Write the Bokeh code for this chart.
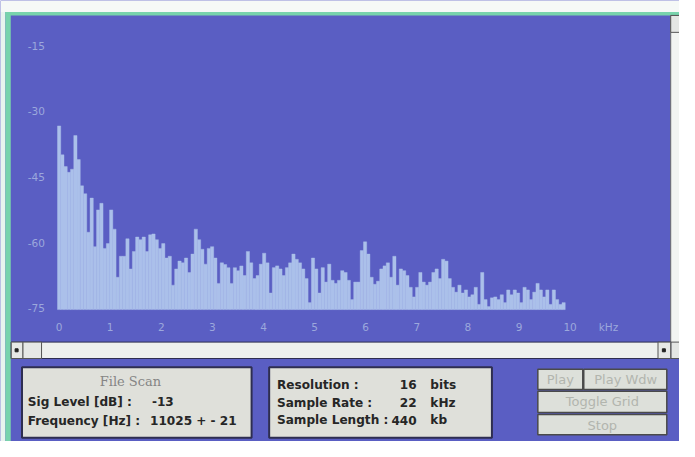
from bokeh.plotting import figure
from bokeh.models import Range1d
from bokeh.core.properties import value
from bokeh.embed import file_html
from bokeh.resources import INLINE

# ---------------- data ----------------
bin_width_khz = 0.0637
levels_db = [
    -33.3, -39.9, -42.6, -43.9, -43.2, -35.5, -41.0, -47.0, -48.8, -57.6,
    -49.8, -60.9, -52.5, -51.0, -61.3, -60.2, -52.5, -56.9, -67.9, -63.1,
    -63.1, -59.1, -66.0, -62.0, -58.7, -59.3, -58.7, -62.0, -58.2, -58.0,
    -59.3, -61.3, -60.2, -63.5, -63.1, -69.7, -66.0, -64.2, -64.6, -63.5,
    -66.8, -62.6, -56.9, -59.3, -61.5, -64.9, -61.3, -60.9, -63.5, -69.3,
    -64.6, -65.0, -65.7, -69.3, -65.7, -66.4, -65.3, -67.5, -62.0, -64.6,
    -68.2, -67.5, -64.9, -62.4, -64.6, -71.5, -65.7, -65.3, -66.0, -67.5,
    -65.7, -64.6, -62.6, -63.8, -64.6, -66.0, -68.2, -73.7, -63.5, -66.0,
    -71.5, -65.7, -69.0, -64.9, -68.6, -69.3, -68.6, -66.4, -66.8, -68.6,
    -73.0, -69.0, -69.0, -61.8, -59.8, -62.6, -67.9, -69.5, -68.8, -66.0,
    -65.3, -64.6, -67.9, -63.1, -69.7, -66.0, -66.4, -67.5, -70.2, -72.4,
    -70.2, -66.8, -69.0, -69.7, -69.0, -66.8, -66.0, -68.2, -63.8, -64.2,
    -68.2, -70.2, -71.3, -69.7, -71.5, -70.8, -72.4, -71.9, -70.2, -74.1,
    -66.8, -73.0, -74.6, -72.6, -72.4, -73.0, -71.9, -73.7, -70.8, -71.9,
    -70.8, -71.5, -73.7, -70.2, -70.8, -73.0, -71.3, -69.3, -70.8, -72.4,
    -70.8, -74.1, -70.8, -73.0, -74.1, -73.7,
]
freq_khz = [i * bin_width_khz for i in range(len(levels_db))]
baseline_db = -75.3
db_ticks = [-75, -60, -45, -30, -15]
khz_ticks = [0, 1, 2, 3, 4, 5, 6, 7, 8, 9, 10]
khz_unit_tick = 10.75
khz_unit_label = "kHz"

info_left_title = "File Scan"
info_left_labels = ["Sig Level [dB] :", "Frequency [Hz] :"]
info_left_values = ["-13", "11025 + - 21"]
info_mid_labels = ["Resolution :", "Sample Rate :", "Sample Length :"]
info_mid_values = ["16", "22", "440"]
info_mid_units = ["bits", "kHz", "kb"]
button_labels = ["Play", "Play Wdw", "Toggle Grid", "Stop"]

# ---------------- styles ----------------
BLUE = "#5a5ec3"
BAR = "#abc0ea"
TICK = "#9ca8dc"
PANEL = "#dfe0da"
SCROLL = "#eef0ee"
GREEN = "#78d3ac"
DARK = "#2e2e50"
TXT = "#262626"
BTN_TXT = "#b2b5ae"
FONT_AX = "DejaVu Sans"
FONT_UI = "DejaVu Sans"
FONT_SERIF = "DejaVu Serif"
UI_SIZE = "12.1px"

W, H = 679, 441

# One canvas whose primary ranges are the original 695x457 screen grid;
# the spectrum uses its own kHz / dB scales mapped onto the same frame.
p = figure(width=W, height=H, output_backend="svg", toolbar_location=None,
           x_range=Range1d(0, 695), y_range=Range1d(457, 0),
           min_border=0, x_axis_location=None, y_axis_location=None)
p.extra_x_ranges = {"khz": Range1d(-1.14723, 12.14149)}
p.extra_y_ranges = {"db": Range1d(-105.448, -4.632)}
p.background_fill_color = BLUE
p.border_fill_color = BLUE
p.outline_line_color = None
p.grid.visible = False

# window frame
p.quad(left=[0], right=[695], top=[0], bottom=[12], fill_color="#f6f9f7", line_color=None)
p.quad(left=[0], right=[5], top=[12], bottom=[457], fill_color="#e8f4ee", line_color=None)
p.quad(left=[5], right=[695], top=[12], bottom=[15.5], fill_color=GREEN, line_color=None)
p.quad(left=[5], right=[10.5], top=[12], bottom=[457], fill_color=GREEN, line_color=None)
# vertical scrollbar on the right
p.quad(left=[686], right=[695], top=[15.5], bottom=[371], fill_color="#f2f4f2",
       line_color="#6a6a6a", line_width=1)
p.quad(left=[686, 686], right=[695, 695], top=[15.5, 354], bottom=[33, 371],
       fill_color="#e4e6e4", line_color="#555555", line_width=1)

# spectrum bars
p.vbar(x=freq_khz, top=levels_db, bottom=baseline_db, width=bin_width_khz,
       fill_color=BAR, line_color=BAR, line_width=0.4,
       x_range_name="khz", y_range_name="db")

# tick labels placed on the kHz / dB scales
p.text(x=[-0.277] * len(db_ticks), y=db_ticks, text=[str(t) for t in db_ticks],
       x_range_name="khz", y_range_name="db", text_font=value(FONT_AX),
       text_font_size="10.5px", text_color=TICK, text_align="right",
       text_baseline="middle")
p.text(x=khz_ticks + [khz_unit_tick], y=[-79.2] * (len(khz_ticks) + 1),
       text=[str(t) for t in khz_ticks] + [khz_unit_label],
       x_range_name="khz", y_range_name="db", text_font=value(FONT_AX),
       text_font_size="10.5px", text_color=TICK, text_align="center",
       text_baseline="middle")

# horizontal scrollbar
p.quad(left=[11], right=[686], top=[354], bottom=[371], fill_color=SCROLL,
       line_color=DARK, line_width=1)
p.quad(left=[11, 23, 673], right=[23, 42, 686], top=[354, 354, 354], bottom=[371, 371, 371],
       fill_color="#e6e8e6", line_color="#555555", line_width=1)
p.scatter(x=[16.5, 679], y=[362.5, 362.5], size=3, marker="square", color="#222222")

# info panels
p.quad(left=[22, 275], right=[257, 503], top=[380, 380], bottom=[453, 453],
       fill_color=PANEL, line_color=DARK, line_width=2)
p.text(x=[133], y=[395], text=[info_left_title], text_font=value(FONT_SERIF),
       text_font_size="13px", text_color="#858585", text_align="center",
       text_baseline="middle")
p.text(x=[28, 28], y=[416, 436], text=info_left_labels, text_font=value(FONT_UI),
       text_font_style="bold", text_font_size=UI_SIZE, text_color=TXT,
       text_align="left", text_baseline="middle")
p.text(x=[155, 153], y=[416, 436], text=info_left_values, text_font=value(FONT_UI),
       text_font_style="bold", text_font_size=UI_SIZE, text_color=TXT,
       text_align="left", text_baseline="middle")

rows_y = [398, 417, 435]
p.text(x=[283] * 3, y=rows_y, text=info_mid_labels, text_font=value(FONT_UI),
       text_font_style="bold", text_font_size=UI_SIZE, text_color=TXT,
       text_align="left", text_baseline="middle")
p.text(x=[426] * 3, y=rows_y, text=info_mid_values, text_font=value(FONT_UI),
       text_font_style="bold", text_font_size=UI_SIZE, text_color=TXT,
       text_align="right", text_baseline="middle")
p.text(x=[440] * 3, y=rows_y, text=info_mid_units, text_font=value(FONT_UI),
       text_font_style="bold", text_font_size=UI_SIZE, text_color=TXT,
       text_align="left", text_baseline="middle")

# buttons
p.quad(left=[550, 597, 550, 550], right=[596, 682, 682, 682],
       top=[382, 382, 405, 429], bottom=[403, 403, 427, 450],
       fill_color="#dde0da", line_color="#4a4a4a", line_width=1.5)
p.text(x=[573, 640, 616, 616], y=[393, 393, 416, 440], text=button_labels,
       text_font=value(FONT_UI), text_font_size="13px", text_color=BTN_TXT,
       text_align="center", text_baseline="middle")

open("out.html", "w").write(file_html(p, INLINE))
